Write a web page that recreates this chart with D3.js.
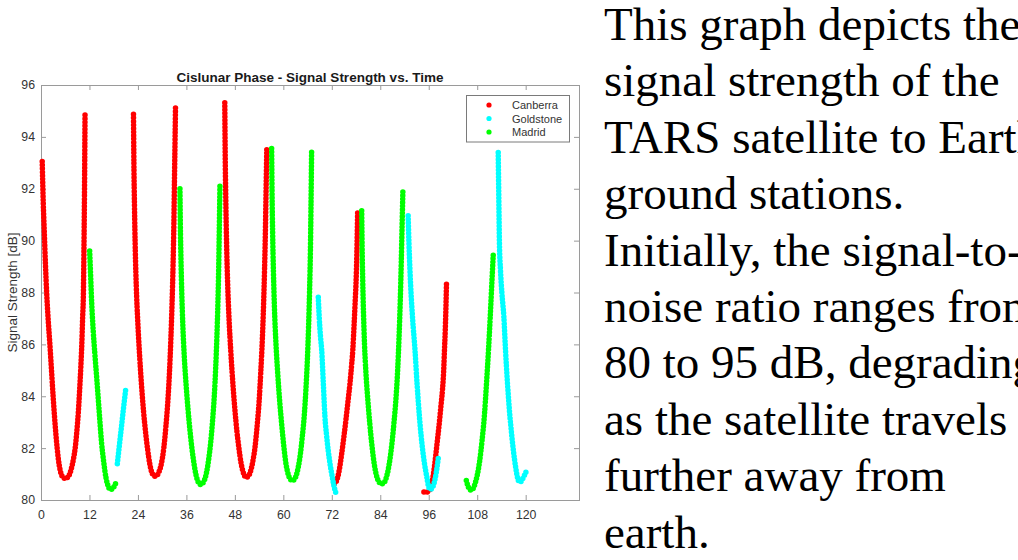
<!DOCTYPE html>
<html>
<head>
<meta charset="utf-8">
<script src="https://cdn.jsdelivr.net/npm/d3@7"></script>
<style>
  body { margin: 0; background: #fff; }
  svg { display: block; }
</style>
</head>
<body>
<script>

// ---- data ----
var stations = ['Canberra', 'Goldstone', 'Madrid'];
var xTicks = [0, 12, 24, 36, 48, 60, 72, 84, 96, 108, 120];
var yTicks = [80, 82, 84, 86, 88, 90, 92, 94, 96];

// each pass: [time, signal dB]
var canberraPasses = [
  [[0.3,93.05],[0.55,91.5],[0.8,90.4],[1.1,89.1],[1.4,88.0],[1.8,86.9],[2.2,86.0],[2.6,85.0],[3.0,84.0],[3.5,82.9],[4.0,82.0],[4.5,81.35],[5.0,81.0],[5.5,80.87],[6.0,80.83],[6.5,80.86],[7.0,80.97],[7.5,81.2],[8.0,81.55],[8.5,82.05],[8.9,82.7],[9.25,83.4],[9.55,84.2],[9.85,85.1],[10.1,86.0],[10.3,87.0],[10.5,88.0],[10.62,89.5],[10.72,91.0],[10.8,92.5],[10.9,94.85]],
  [[22.9,94.87],[23.0,93.0],[23.15,91.3],[23.35,89.6],[23.6,88.2],[23.95,86.9],[24.4,85.6],[24.9,84.4],[25.4,83.4],[25.9,82.6],[26.4,81.95],[26.9,81.42],[27.4,81.08],[27.8,80.95],[28.2,80.92],[28.7,80.95],[29.2,81.08],[29.8,81.4],[30.4,82.0],[30.9,82.8],[31.4,83.8],[31.8,84.9],[32.15,86.2],[32.45,87.6],[32.7,89.1],[32.9,90.7],[33.05,92.4],[33.2,94.0],[33.3,95.13]],
  [[45.5,95.32],[45.6,93.4],[45.75,91.6],[45.95,89.9],[46.2,88.4],[46.55,87.0],[47.0,85.7],[47.5,84.5],[48.0,83.5],[48.5,82.65],[49.0,82.0],[49.5,81.45],[50.0,81.1],[50.4,80.93],[50.8,80.87],[51.3,80.91],[51.8,81.07],[52.4,81.45],[53.0,82.05],[53.5,82.85],[54.0,83.8],[54.4,84.9],[54.8,86.2],[55.1,87.5],[55.35,88.9],[55.55,90.3],[55.7,91.7],[55.9,93.52]],
  [[72.6,80.62],[73.0,80.68],[73.5,80.9],[74.0,81.3],[74.5,81.85],[75.0,82.45],[75.5,83.1],[76.0,83.8],[76.5,84.5],[76.9,85.2],[77.2,85.8],[77.5,86.7],[77.8,87.7],[78.0,88.4],[78.2,89.5],[78.3,90.3],[78.4,91.15]],
  [[94.8,80.31],[95.5,80.3],[96.3,80.41],[97.0,80.85],[97.5,81.4],[98.0,82.1],[98.6,82.95],[99.0,83.6],[99.4,84.25],[99.7,85.0],[99.9,85.8],[100.1,86.6],[100.25,87.4],[100.4,88.4]]
];

var goldstonePasses = [
  [[18.9,81.4],[19.4,82.1],[19.9,82.8],[20.4,83.5],[21.0,84.3]],
  [[68.65,87.82],[68.9,87.0],[69.2,86.3],[69.5,85.77],[69.9,84.5],[70.3,83.2],[70.7,82.5],[71.1,81.92],[71.6,81.35],[72.1,80.9],[72.6,80.5],[73.2,80.19]],
  [[90.9,90.96],[91.1,89.9],[91.5,88.33],[92.0,87.0],[92.6,85.77],[93.1,84.5],[93.7,83.2],[94.1,82.5],[94.5,81.92],[95.0,81.35],[95.5,80.9],[95.9,80.55],[96.3,80.41],[96.8,80.45],[97.3,80.64],[97.9,81.1],[98.4,81.67]],
  [[113.2,93.4],[113.3,92.2],[113.4,91.0],[113.5,89.9],[113.75,88.9],[114.1,88.0],[114.6,87.05],[115.0,85.8],[115.5,84.5],[116.0,83.4],[116.5,82.56],[117.0,81.85],[117.5,81.28],[118.0,80.85],[118.4,80.7],[118.9,80.72],[119.3,80.83],[119.7,80.95],[120.1,81.09]]
];

var madridPasses = [
  [[12.05,89.6],[12.3,88.6],[12.55,87.6],[12.9,86.6],[13.35,85.6],[13.8,84.7],[14.2,83.85],[14.6,83.0],[15.0,82.2],[15.5,81.5],[16.1,80.85],[16.6,80.55],[17.1,80.41],[17.6,80.42],[18.1,80.52],[18.5,80.65],[18.7,80.75]],
  [[34.4,92.0],[34.5,90.6],[34.65,89.3],[34.85,88.0],[35.1,86.8],[35.45,85.6],[35.9,84.5],[36.4,83.5],[36.9,82.65],[37.4,81.95],[37.9,81.38],[38.4,80.95],[38.9,80.7],[39.5,80.6],[40.0,80.64],[40.5,80.78],[41.0,81.07],[41.5,81.55],[42.0,82.2],[42.5,83.1],[42.9,84.0],[43.25,85.1],[43.55,86.3],[43.8,87.6],[44.0,89.0],[44.15,90.5],[44.3,92.1]],
  [[57.1,93.55],[57.2,91.9],[57.35,90.3],[57.55,88.8],[57.8,87.4],[58.15,86.1],[58.6,84.9],[59.1,83.8],[59.6,82.9],[60.1,82.1],[60.6,81.45],[61.1,81.05],[61.6,80.83],[62.2,80.75],[62.7,80.79],[63.2,80.95],[63.7,81.27],[64.2,81.75],[64.7,82.45],[65.2,83.3],[65.6,84.3],[65.95,85.4],[66.25,86.7],[66.5,88.1],[66.7,89.6],[66.85,91.4],[67.0,93.45]],
  [[79.4,91.15],[79.5,89.8],[79.65,88.5],[79.85,87.2],[80.1,86.0],[80.45,84.9],[80.9,83.9],[81.4,82.95],[81.9,82.15],[82.4,81.5],[82.9,81.05],[83.4,80.78],[83.9,80.65],[84.4,80.62],[84.9,80.66],[85.4,80.82],[85.9,81.12],[86.4,81.58],[86.9,82.2],[87.4,83.0],[87.9,83.95],[88.3,85.0],[88.65,86.3],[88.95,87.7],[89.2,89.2],[89.4,90.6],[89.6,91.95]],
  [[105.3,80.75],[105.8,80.5],[106.4,80.38],[106.9,80.42],[107.4,80.6],[108.0,80.95],[108.6,81.5],[109.2,82.3],[109.8,83.3],[110.3,84.5],[110.8,85.8],[111.2,87.0],[111.6,88.3],[112.0,89.55]]
];

var noteLines = [
  'This graph depicts the',
  'signal strength of the',
  'TARS satellite to Earth',
  'ground stations.',
  'Initially, the signal-to-',
  'noise ratio ranges from',
  '80 to 95 dB, degrading',
  'as the satellite travels',
  'further away from',
  'earth.'
];

// ---- layout ----
var svg_width = 1018;
var svg_height = 560;
var plotLeft = 41, plotRight = 579, plotTop = 85, plotBottom = 500;
var colors = {Canberra: '#ff0000', Goldstone: '#00ffff', Madrid: '#00ff00'};
var axisColor = '#9a9a9a';
var textColor = '#333333';

var svg = d3.select('body').append('svg')
    .attr('width', svg_width)
    .attr('height', svg_height);

var xscale = d3.scaleLinear().domain([0, 133.2]).range([plotLeft, plotRight]);
var yscale = d3.scaleLinear().domain([80, 96]).range([plotBottom, plotTop]);

// Title
svg.append('text')
  .attr('x', (plotLeft + plotRight) / 2)
  .attr('y', 81.5)
  .attr('text-anchor', 'middle')
  .style('font-family', 'Liberation Sans, Arial, sans-serif')
  .style('font-size', '13.5px')
  .style('font-weight', 'bold')
  .style('fill', '#1a1a1a')
  .text('Cislunar Phase - Signal Strength vs. Time');

// Y axis label
svg.append('text')
  .attr('transform', 'translate(16.7,' + ((plotTop + plotBottom) / 2) + ') rotate(-90)')
  .attr('text-anchor', 'middle')
  .style('font-family', 'Liberation Sans, Arial, sans-serif')
  .style('font-size', '13.5px')
  .style('fill', textColor)
  .text('Signal Strength [dB]');

// Axes (ticks point inward like MATLAB)
function styleAxis(g) {
  g.select('.domain').remove();
  g.selectAll('line').attr('stroke', axisColor);
  g.selectAll('text')
    .style('font-family', 'Liberation Sans, Arial, sans-serif')
    .style('font-size', '12.3px')
    .style('fill', textColor);
}

svg.append('g')
  .attr('transform', 'translate(0,' + plotBottom + ')')
  .call(d3.axisBottom(xscale).tickValues(xTicks).tickSize(-5).tickPadding(10))
  .call(styleAxis);

svg.append('g')
  .attr('transform', 'translate(0,' + plotTop + ')')
  .call(d3.axisTop(xscale).tickValues(xTicks).tickSize(-5).tickFormat(''))
  .call(styleAxis);

svg.append('g')
  .attr('transform', 'translate(' + plotLeft + ',0)')
  .call(d3.axisLeft(yscale).tickValues(yTicks).tickSize(-5).tickPadding(6))
  .call(styleAxis);

svg.append('g')
  .attr('transform', 'translate(' + plotRight + ',0)')
  .call(d3.axisRight(yscale).tickValues(yTicks).tickSize(-5).tickFormat(''))
  .call(styleAxis);

// frame
svg.append('rect')
  .attr('x', plotLeft + 0.5)
  .attr('y', plotTop + 0.5)
  .attr('width', plotRight - plotLeft)
  .attr('height', plotBottom - plotTop)
  .attr('fill', 'none')
  .attr('stroke', axisColor);

// dotted passes
var line = d3.line()
  .x(d => xscale(d[0]))
  .y(d => yscale(d[1]))
  .curve(d3.curveMonotoneX);

var series = [
  {name: 'Canberra', passes: canberraPasses},
  {name: 'Goldstone', passes: goldstonePasses},
  {name: 'Madrid', passes: madridPasses}
];

series.forEach(function(s) {
  svg.append('g')
    .attr('class', 'station ' + s.name)
    .selectAll('path')
    .data(s.passes)
    .enter().append('path')
      .attr('d', line)
      .attr('fill', 'none')
      .attr('stroke', colors[s.name])
      .attr('stroke-width', 5.5)
      .attr('stroke-linecap', 'round')
      .attr('stroke-dasharray', '0 3.5');
});

// Legend
var legend = svg.append('g').attr('class', 'legend');
legend.append('rect')
  .attr('x', 466.5).attr('y', 95.5)
  .attr('width', 103).attr('height', 46.5)
  .attr('fill', '#fff')
  .attr('stroke', '#7a7a7a');

var rows = legend.selectAll('g.row')
  .data(stations)
  .enter().append('g')
    .attr('class', 'row')
    .attr('transform', (d, i) => 'translate(0,' + (105 + i * 13.5) + ')');

rows.append('circle')
  .attr('cx', 489).attr('cy', 0).attr('r', 2.6)
  .attr('fill', d => colors[d]);

rows.append('text')
  .attr('x', 512).attr('y', 4)
  .style('font-family', 'Liberation Sans, Arial, sans-serif')
  .style('font-size', '11px')
  .style('fill', textColor)
  .text(d => d);

// Side note
svg.append('g')
  .selectAll('text')
  .data(noteLines)
  .enter().append('text')
    .attr('x', 604)
    .attr('y', (d, i) => 40 + i * 56.4)
    .style('font-family', 'Liberation Serif, Times New Roman, serif')
    .style('font-size', '47px')
    .style('fill', '#000')
    .text(d => d);

</script>
</body>
</html>
